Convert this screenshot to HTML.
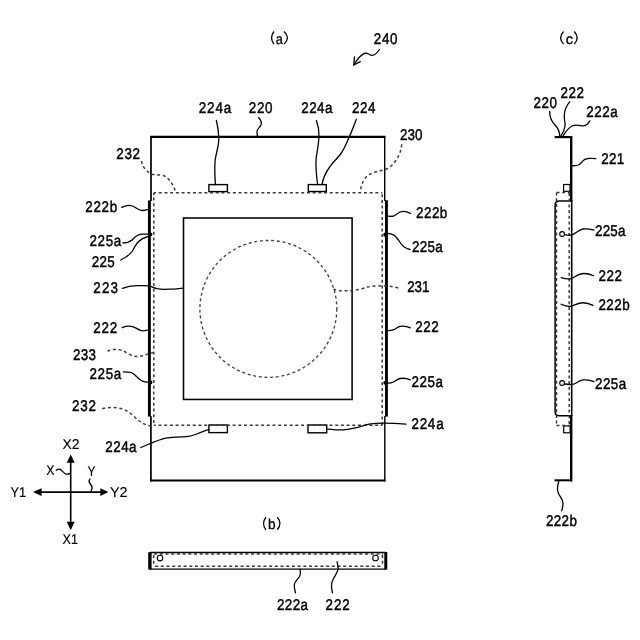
<!DOCTYPE html>
<html><head><meta charset="utf-8"><style>
html,body{margin:0;padding:0;background:#fff;width:640px;height:640px;overflow:hidden;font-family:"Liberation Sans",sans-serif;}
svg{display:block;filter:grayscale(1)}
</style></head><body>
<svg width="640" height="640" viewBox="0 0 640 640">
<rect width="640" height="640" fill="#fff"/>
<g fill="none" stroke="#000" stroke-linecap="butt">
<path d="M150.1 136.8H385.4" stroke-width="2.2"/>
<path d="M151 136V201 M150.9 416V481.5" stroke-width="1.7"/>
<path d="M384.7 136V201 M384.8 416V481.5" stroke-width="1.4"/>
<path d="M150.1 480.5H385.4" stroke-width="2"/>
<path d="M149.4 200.4V416.6" stroke-width="2.9"/>
<path d="M386.45 200.2V416.6" stroke-width="2.9"/>
<circle cx="150.3" cy="234.5" r="2.1" fill="#000" stroke="none"/>
<circle cx="150.3" cy="382.4" r="2.1" fill="#000" stroke="none"/>
<circle cx="385.4" cy="234.7" r="2.1" fill="#000" stroke="none"/>
<circle cx="385.4" cy="382.8" r="2.1" fill="#000" stroke="none"/>
<rect x="183.5" y="218" width="168.6" height="181.45" stroke-width="1.55"/>
<rect x="208.9" y="184.6" width="18.50" height="7.00" stroke-width="1.4"/>
<rect x="308.3" y="184.6" width="18.00" height="6.90" stroke-width="1.4"/>
<rect x="208.9" y="425.0" width="18.50" height="7.60" stroke-width="1.4"/>
<rect x="308.0" y="425.0" width="18.70" height="7.80" stroke-width="1.4"/>
<path d="M70.7 460 V525" stroke-width="1.6"/>
<path d="M38 492.1 H103.5" stroke-width="1.6"/>
<path d="M70.7 454.6 L66.7 462.8 L74.7 462.8 Z" fill="#000" stroke="none"/>
<path d="M70.7 530.2 L66.7 521.8 L74.7 521.8 Z" fill="#000" stroke="none"/>
<path d="M33 492.1 L41.6 488.20000000000005 L41.6 496.0 Z" fill="#000" stroke="none"/>
<path d="M108.4 492.1 L100.3 488.20000000000005 L100.3 496.0 Z" fill="#000" stroke="none"/>
<path d="M150 552.6H386" stroke-width="1.5"/>
<path d="M150 569.2H386" stroke-width="1.3"/>
<path d="M149.9 552.2V569.6" stroke-width="3.4"/>
<path d="M385.8 552V569.6" stroke-width="3"/>
<circle cx="160" cy="558.1" r="2.8" stroke-width="1.1"/>
<circle cx="375.5" cy="558" r="2.8" stroke-width="1.1"/>
<path d="M554.7 137.1 H572" stroke-width="2.2"/>
<path d="M571.2 136 V201" stroke-width="2.4"/>
<path d="M571.7 200 V416" stroke-width="1.6"/>
<path d="M571.2 415 V481.5" stroke-width="2.4"/>
<path d="M554.5 480.3 H572" stroke-width="2"/>
<rect x="563.6" y="184.5" width="6.4" height="6.8" stroke-width="1.2"/>
<rect x="563.7" y="425.9" width="6.4" height="6.9" stroke-width="1.2"/>
<path d="M571 201.1 H559.4 Q555.1 201.1 555.1 205.4 V411.5 Q555.1 415.8 559.4 415.8 H571" stroke-width="1.5"/>
<circle cx="562.1" cy="234" r="2.4" stroke-width="1.1"/>
<circle cx="562.1" cy="383" r="2.4" stroke-width="1.1"/>
</g>
<g fill="none" stroke="#3a3a3a" stroke-width="1.5" stroke-dasharray="3 2.7">
<path d="M153.8 192.8 H382.2" stroke-dashoffset="0.75"/>
<path d="M382.2 192.8 V425.2" stroke-dashoffset="4.3"/>
<path d="M153.8 192.8 V425.2" stroke-dashoffset="0.9"/>
<path d="M153.8 425.2 H382.2" stroke-dashoffset="1"/>
<circle cx="268.35" cy="308.9" r="68.45" stroke="#444" stroke-width="1.35"/>
<path d="M153.7 553.9 H383" stroke-dashoffset="5.25"/>
<path d="M153.7 566.3 H383" stroke-dashoffset="4.3"/>
<path d="M153.7 555 V566.3 M382.5 555 V566.3"/>
<path d="M556.5 192.6 H570 M556.5 192.6 V425.5 M556.5 425.5 H570 M569.2 193 V425"/>
<path d="M141.6 161 C142 166 145 170 151 174.1 C156 175 161 174.5 165 176.3 C169 178.5 173 184 175.75 192.1"/>
<path d="M401.8 144.4 C401 152 398 160 390 167.1 C386 170 381 170.5 376.9 171.5 C372 172.8 367 175 364.6 179 C362 183 361 187 360.25 191"/>
<path d="M107.5 351.2 C111 349.5 116 348.5 122.4 350.5 C126 352 130 355.5 134.6 356.2 C139 357 143 356 146.9 354.4 C149 353.5 151 352.9 153 352.7"/>
<path d="M102.3 408.8 C110 406.5 118 407.5 124.4 409.7 C131 412.5 135 418 139.4 421 C143 423.5 147 425.5 150.6 426.1"/>
<path d="M398.3 287.9 C394 286.8 390 286.2 385.8 286.1 C380 286 375 285.8 371.6 286.3 C367 287 364 288.3 360.9 289 C357 289.8 354 290.4 351.4 290.6 C348 290.9 346 290.9 344.25 290.8 C340 290.6 336 290.2 333.6 289.3"/>
</g>
<g fill="none" stroke="#000" stroke-width="1.3" stroke-linecap="round">
<path d="M216.4 120.5 C217.5 125 218.6 131 218.8 138 C219 146 216 153 215.2 160 C214.5 167 214.8 176 215.4 184.6"/>
<path d="M258.5 117.5 C261 120 262 122 261 125 C260 127.5 256.5 129 257 132 L257.4 136"/>
<path d="M316.4 120.5 C318 125 319.2 130 319 136 C318.8 143 317 152 316.2 158 C315.5 165 316.5 176 317.6 184.6"/>
<path d="M356.4 119.3 C354 125 352 131 349.9 135.4 C347 142 345 148 341 153.5 C337 159 333 162 330 166.5 C326 172 323 178 322 184.6"/>
<path d="M121.7 207.3 C124 206.3 127 205.2 129.5 205.3 C132 205.4 134.5 206.5 137 208.5 C139 210 141 210.6 143 210.5 C145 210.4 147 209.9 148.4 209.6"/>
<path d="M122.7 242.9 C127 243 129.5 242 132.4 239.7 C135 237 137 234.5 141.7 234.1 L148.6 234.1"/>
<path d="M120.8 260 C126 257.5 130 254.5 132.4 251 C134.5 247.5 135.5 245 138 242 C141 239 144 237.5 148 236.6"/>
<path d="M122.4 288.4 C127 286.8 131 285.9 136 285.7 C141 285.5 146 285.5 149 285.9 C152 286.5 154 288 157 288.7 C161 289.5 166 289.4 170 289.2 C175 289 179 288.5 183 288.2"/>
<path d="M122.2 327.6 C124.5 326.7 127 326.1 129.5 326.2 C132 326.3 134.5 327 137 328.6 C139 330 141 330.8 143 330.8 C145 330.8 146.5 330.4 147.8 330.1"/>
<path d="M123.3 371.8 C126 371.8 129 371.8 131 372.5 C134 373.5 136 376 138 378 C140 380 143 382 147.8 382.2"/>
<path d="M140.75 447.5 C147 445 155 441 162 439 C169 437 176 437 183.5 436.8 C189 436.6 193 435.6 197 434 C201 432.3 205 430.6 208.9 429.7"/>
<path d="M388.1 216.2 C390 216.4 392 216.5 394 215.8 C396 215 398 213 400 212 C403 211 407 211.5 410.5 213.3"/>
<path d="M387.7 233.3 C390 233.5 392.5 234 394.5 235.5 C397 237.5 398.5 240 400.5 243 C402.5 246 405.5 248.5 410 249.5"/>
<path d="M387.8 330.7 C390 330.7 392 330.6 394 329.7 C396 328.6 397.5 327 400 326.4 C403 325.9 407 326.3 410.3 327.8"/>
<path d="M386.6 383.3 C389 383.2 392 382.8 394 381.7 C396 380.6 397.5 379 400 378.5 C403 378 407 378.4 410.3 379.8"/>
<path d="M326.7 429 C332 429.5 337 430 342.8 429.9 C348 429.7 353 428.5 357.6 427.4 C362 426.2 365 425 369 424.2 C374 423.4 378 423.1 383.1 423.1 C390 423.1 398 423.4 406 424.1"/>
<path d="M379.4 49.5 C377 53 374 56 371.5 55.3 C369 54.7 367 52.3 364.5 53.4 C360 55.5 356 61 353.9 64.9"/>
<path d="M354.4 57 L353.8 65 L360.3 61.7"/>
<path d="M56.25 470.4 C57.5 469.3 59 468.8 60.5 469.6 C62 470.5 63.5 472.8 65.5 473.8 C67 474.5 69 474 70.25 473.4"/>
<path d="M89.9 479.1 C88.8 480.5 88.8 482 90 483.5 C91.3 485 92.3 486.5 92.1 488 C91.9 489.5 91.2 490.8 90.8 491.8"/>
<path d="M300.1 569.4 C300.5 572 301 574 299.5 576.5 C297.5 579.5 294.5 581.5 294.3 585 C294.2 588 295 590.5 295.4 592.8"/>
<path d="M337.1 561.9 C337.5 564 338.3 567 338 569.4 C337.6 572 335.5 575 333.5 578.5 C331.5 582 331.3 585 331.5 587 C331.8 589.5 332.2 591 332.4 592.8"/>
<path d="M549.7 111.3 C549.5 117 551 121 555 125 C558 128 559.5 131 559.75 136"/>
<path d="M569.8 101.7 C567 105 564.5 110 564.3 115.25 C564 120 565.5 124 565 126 C564.5 130 563 133 561 135.8"/>
<path d="M589.9 120.9 C588 124 586 126.5 582 125.8 C578 125 575 124.5 572 126 C568 128 565.5 132 563.25 135.6"/>
<path d="M595.8 158.7 C592 158.2 588 158 585 159.3 C582 161 581 163.8 578.5 165 C576.5 165.8 574.5 165.8 572.5 165.75"/>
<path d="M565 234.6 C567 235.2 570 235.2 572 234.8 C576 233.5 578 230 583 229 C587 228.5 590 229 593.9 230.2"/>
<path d="M561.1 277.6 C564 278.5 568 279.5 571.25 278.6 C574 277.8 577 274 583.25 273.5 C587 273.3 590 274.2 593.4 275.75"/>
<path d="M561.1 304.25 C564 305.5 568 306.8 571 306.3 C574 305.5 577 303 582.5 302.75 C587 302.6 590 303.8 593 305.4"/>
<path d="M564.8 384 C568 384.6 571 384.6 573.5 384.2 C577 383 579 380.5 583 379.9 C587 379.5 590.5 380 593.9 381.6"/>
<path d="M558.8 481.5 C557.5 485 557 490 558.5 493.5 C560 497 563 499.5 563 503 C563 506 562.3 509 561.8 510.75"/>
</g>
<g fill="none" stroke="#000" stroke-width="1.3">
<path d="M273.95 31.50 Q269.15 37.75 273.95 44.00"/>
<path d="M284.05 31.50 Q290.85 37.75 284.05 44.00"/>
<path d="M265.95 517.25 Q261.15 523.50 265.95 529.75"/>
<path d="M277.30 517.25 Q282.60 523.50 277.30 529.75"/>
<path d="M563.55 31.50 Q557.75 37.80 563.55 44.10"/>
<path d="M574.25 31.50 Q580.05 37.80 574.25 44.10"/>
</g>
<g text-rendering="geometricPrecision" font-family="Liberation Sans, sans-serif" font-size="15.6" fill="#000" stroke="#000" stroke-width="0.45">
<text transform="translate(373.75 43.75) scale(0.86 1)" textLength="27.62" lengthAdjust="spacing">240</text>
<text transform="translate(198.75 113.25) scale(0.86 1)" textLength="37.79" lengthAdjust="spacing">224a</text>
<text transform="translate(248.75 113.00) scale(0.86 1)" textLength="27.62" lengthAdjust="spacing">220</text>
<text transform="translate(301.25 113.25) scale(0.86 1)" textLength="36.34" lengthAdjust="spacing">224a</text>
<text transform="translate(352.00 113.25) scale(0.86 1)" textLength="27.33" lengthAdjust="spacing">224</text>
<text transform="translate(400.00 139.80) scale(0.86 1)" textLength="26.16" lengthAdjust="spacing">230</text>
<text transform="translate(116.25 159.00) scale(0.86 1)" textLength="27.62" lengthAdjust="spacing">232</text>
<text transform="translate(85.20 212.20) scale(0.86 1)" textLength="37.33" lengthAdjust="spacing">222b</text>
<text transform="translate(416.10 217.90) scale(0.86 1)" textLength="36.28" lengthAdjust="spacing">222b</text>
<text transform="translate(89.50 245.90) scale(0.86 1)" textLength="36.92" lengthAdjust="spacing">225a</text>
<text transform="translate(411.90 252.00) scale(0.86 1)" textLength="35.81" lengthAdjust="spacing">225a</text>
<text transform="translate(91.70 267.30) scale(0.86 1)" textLength="26.74" lengthAdjust="spacing">225</text>
<text transform="translate(93.25 292.50) scale(0.86 1)" textLength="28.78" lengthAdjust="spacing">223</text>
<text transform="translate(407.25 292.40) scale(0.86 1)" textLength="25.76" lengthAdjust="spacing">231</text>
<text transform="translate(93.25 332.60) scale(0.86 1)" textLength="27.97" lengthAdjust="spacing">222</text>
<text transform="translate(415.30 332.30) scale(0.86 1)" textLength="27.27" lengthAdjust="spacing">222</text>
<text transform="translate(73.10 360.00) scale(0.86 1)" textLength="26.74" lengthAdjust="spacing">233</text>
<text transform="translate(89.50 379.00) scale(0.86 1)" textLength="36.92" lengthAdjust="spacing">225a</text>
<text transform="translate(411.60 386.70) scale(0.86 1)" textLength="36.51" lengthAdjust="spacing">225a</text>
<text transform="translate(72.00 411.40) scale(0.86 1)" textLength="28.02" lengthAdjust="spacing">232</text>
<text transform="translate(105.25 452.00) scale(0.86 1)" textLength="36.45" lengthAdjust="spacing">224a</text>
<text transform="translate(411.40 428.60) scale(0.86 1)" textLength="37.44" lengthAdjust="spacing">224a</text>
<text stroke-width="0.15" font-size="14.2" transform="translate(62.50 448.95)" textLength="17.00" lengthAdjust="spacingAndGlyphs">X2</text>
<text stroke-width="0.15" font-size="14.2" transform="translate(46.25 475.20)" textLength="8.25" lengthAdjust="spacingAndGlyphs">X</text>
<text stroke-width="0.15" font-size="14.2" transform="translate(87.50 476.45)" textLength="8.00" lengthAdjust="spacingAndGlyphs">Y</text>
<text stroke-width="0.15" font-size="14.2" transform="translate(10.50 497.20)" textLength="15.75" lengthAdjust="spacingAndGlyphs">Y1</text>
<text stroke-width="0.15" font-size="14.2" transform="translate(110.00 497.20)" textLength="17.50" lengthAdjust="spacingAndGlyphs">Y2</text>
<text stroke-width="0.15" font-size="14.2" transform="translate(62.50 543.95)" textLength="15.50" lengthAdjust="spacingAndGlyphs">X1</text>
<text transform="translate(277.00 609.50) scale(0.86 1)" textLength="36.16" lengthAdjust="spacing">222a</text>
<text transform="translate(325.60 609.50) scale(0.86 1)" textLength="28.02" lengthAdjust="spacing">222</text>
<text transform="translate(533.40 107.90) scale(0.86 1)" textLength="27.56" lengthAdjust="spacing">220</text>
<text transform="translate(560.40 98.30) scale(0.86 1)" textLength="27.56" lengthAdjust="spacing">222</text>
<text transform="translate(586.20 116.60) scale(0.86 1)" textLength="36.63" lengthAdjust="spacing">222a</text>
<text transform="translate(601.30 163.90) scale(0.86 1)" textLength="26.63" lengthAdjust="spacing">221</text>
<text transform="translate(595.00 236.10) scale(0.86 1)" textLength="35.35" lengthAdjust="spacing">225a</text>
<text transform="translate(598.40 281.10) scale(0.86 1)" textLength="27.44" lengthAdjust="spacing">222</text>
<text transform="translate(598.40 310.30) scale(0.86 1)" textLength="36.40" lengthAdjust="spacing">222b</text>
<text transform="translate(595.00 388.50) scale(0.86 1)" textLength="36.34" lengthAdjust="spacing">225a</text>
<text transform="translate(546.00 526.40) scale(0.86 1)" textLength="35.93" lengthAdjust="spacing">222b</text>
<text font-size="14.4" stroke-width="0.3" transform="translate(275.70 43.50)" textLength="7.10" lengthAdjust="spacingAndGlyphs">a</text>
<text font-size="14.4" stroke-width="0.3" transform="translate(267.95 528.75)" textLength="7.60" lengthAdjust="spacingAndGlyphs">b</text>
<text font-size="14.4" stroke-width="0.3" transform="translate(565.70 43.50)" textLength="7.35" lengthAdjust="spacingAndGlyphs">c</text>
</g>
</svg>
</body></html>
